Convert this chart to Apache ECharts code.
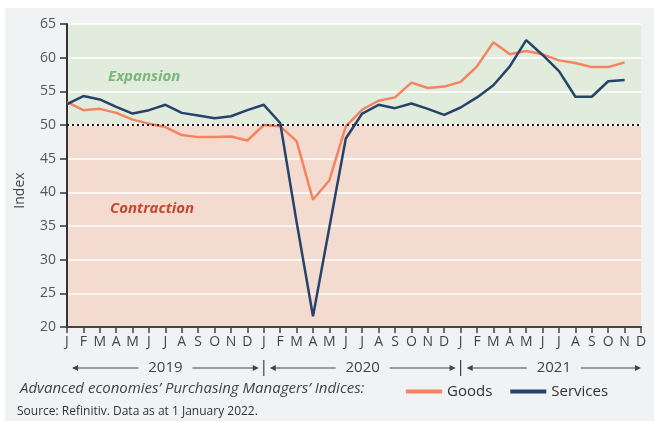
<!DOCTYPE html>
<html>
<head>
<meta charset="utf-8">
<script src="https://cdn.jsdelivr.net/npm/echarts@6/dist/echarts.min.js"></script>
<style>
  html, body { margin: 0; padding: 0; background: #ffffff; }
  #wrap { position: relative; width: 654px; height: 421px; background: #ffffff; }
  #chart { position: absolute; left: 5px; top: 8px; width: 649px; height: 413px; background: #f1f2f4; }
</style>
</head>
<body>
<div id="wrap"><div id="chart"></div></div>
<script>
// Advanced economies PMI, monthly Jan 2019 - Nov 2021
const monthLabels = ['J', 'F', 'M', 'A', 'M', 'J', 'J', 'A', 'S', 'O', 'N', 'D'];
const years = ['2019', '2020', '2021'];
const months = years.flatMap(() => monthLabels);

const goods = [
    53.4, 52.2, 52.4, 51.8, 50.8, 50.2, 49.7, 48.5, 48.2, 48.2, 48.3, 47.7,
    50.0, 49.8, 47.6, 38.9, 41.8, 49.8, 52.3, 53.6, 54.1, 56.3, 55.5, 55.7,
    56.4, 58.7, 62.3, 60.5, 61.0, 60.5, 59.6, 59.2, 58.6, 58.6, 59.3
];
const services = [
    53.1, 54.3, 53.8, 52.7, 51.7, 52.2, 53.0, 51.8, 51.4, 51.0, 51.3, 52.2,
    53.0, 50.3, 35.6, 21.6, 34.8, 48.0, 51.7, 53.0, 52.5, 53.2, 52.4, 51.5,
    52.6, 54.1, 55.9, 58.7, 62.6, 60.4, 58.0, 54.2, 54.2, 56.5, 56.7
];
const yTicks = [20, 25, 30, 35, 40, 45, 50, 55, 60, 65];

const FONT = '"Open Sans", "Noto Sans", sans-serif';
const goodsColor = '#f4845f';
const servicesColor = '#26436a';

const chart = echarts.init(document.getElementById('chart'), null, { renderer: 'canvas' });

chart.setOption({
    backgroundColor: 'transparent',
    animation: false,
    textStyle: { fontFamily: FONT },
    grid: { left: 62, right: 13, top: 16, bottom: 94 },
    legend: {
        left: 396,
        top: 371,
        itemGap: 18,
        itemWidth: 36,
        itemHeight: 4,
        icon: 'rect',
        textStyle: { fontSize: 15, color: '#333', fontFamily: FONT },
        data: ['Goods', 'Services']
    },
    xAxis: {
        type: 'category',
        data: months,
        boundaryGap: false,
        axisLine: { lineStyle: { color: '#444', width: 2 } },
        axisTick: { alignWithLabel: true, length: 6, lineStyle: { color: '#444', width: 1.5 }, interval: 0 },
        axisLabel: { interval: 0, color: '#444', fontSize: 14, margin: 8, fontFamily: FONT },
        splitLine: { show: false }
    },
    yAxis: {
        type: 'value',
        min: yTicks[0],
        max: yTicks[yTicks.length - 1],
        interval: 5,
        name: 'Index',
        nameLocation: 'middle',
        nameGap: 40,
        nameRotate: 90,
        nameTextStyle: { color: '#444', fontSize: 14, fontFamily: FONT, padding: [0, 0, 0, -30] },
        axisLine: { show: true, lineStyle: { color: '#333', width: 2 } },
        axisTick: { show: true, length: 7, lineStyle: { color: '#333', width: 1.5 } },
        axisLabel: { color: '#555', fontSize: 14, margin: 11, fontFamily: FONT },
        splitLine: { show: true, lineStyle: { color: '#ffffff', width: 1.5 } }
    },
    series: [
        {
            name: 'Goods',
            type: 'line',
            data: goods,
            symbol: 'none',
            z: 3,
            itemStyle: { color: goodsColor },
            lineStyle: { color: goodsColor, width: 2.5 },
            markArea: {
                silent: true,
                z: -1,
                data: [
                    [{ yAxis: 50, itemStyle: { color: '#e2ecdd' },
                       label: { show: true, position: [41, 45], formatter: 'Expansion', color: '#79b77a',
                                fontSize: 15, fontWeight: 'bold', fontStyle: 'italic', fontFamily: FONT } },
                     { yAxis: 65 }],
                    [{ yAxis: 20, itemStyle: { color: '#f3dbd0' },
                       label: { show: true, position: [43, 76], formatter: 'Contraction', color: '#c8462e',
                                fontSize: 15, fontWeight: 'bold', fontStyle: 'italic', fontFamily: FONT } },
                     { yAxis: 50 }]
                ]
            },
            markLine: {
                silent: true,
                symbol: 'none',
                label: { show: false },
                lineStyle: { color: '#222', type: [2, 3], width: 2 },
                data: [{ yAxis: 50 }]
            }
        },
        {
            name: 'Services',
            type: 'line',
            data: services,
            symbol: 'none',
            z: 4,
            itemStyle: { color: servicesColor },
            lineStyle: { color: servicesColor, width: 2.5 }
        }
    ]
});

// year brackets under the month labels, placed from the category scale
function px(i) {
    return chart.convertToPixel({ xAxisIndex: 0 }, i);
}

const rowY = 360;
const graphics = [];
years.forEach((yr, k) => {
    const x0 = px(12 * k) + (k === 0 ? 5 : 6);
    const x1 = k === years.length - 1 ? px(months.length - 1) : px(12 * (k + 1)) - 5;
    const mid = (x0 + x1) / 2;
    const gap = 27;
    graphics.push(
        { type: 'line', shape: { x1: x0 + 4, y1: rowY, x2: mid - gap, y2: rowY }, style: { stroke: '#444', lineWidth: 1 } },
        { type: 'line', shape: { x1: mid + gap, y1: rowY, x2: x1 - 4, y2: rowY }, style: { stroke: '#444', lineWidth: 1 } },
        { type: 'polygon', shape: { points: [[x0, rowY], [x0 + 6, rowY - 3], [x0 + 6, rowY + 3]] }, style: { fill: '#444' } },
        { type: 'polygon', shape: { points: [[x1, rowY], [x1 - 6, rowY - 3], [x1 - 6, rowY + 3]] }, style: { fill: '#444' } },
        { type: 'text', x: mid, y: rowY, style: { text: yr, fill: '#444', font: '15px ' + FONT, textAlign: 'center', textVerticalAlign: 'middle' } }
    );
    if (k > 0) {
        const xs = px(12 * k);
        graphics.push({ type: 'line', shape: { x1: xs, y1: rowY - 8, x2: xs, y2: rowY + 8 }, style: { stroke: '#444', lineWidth: 1.2 } });
    }
});

graphics.push(
    { type: 'text', x: 15, y: 381, style: { text: 'Advanced economies\u2019 Purchasing Managers\u2019 Indices:', fill: '#444',
      font: 'italic 15px ' + FONT, textVerticalAlign: 'middle' } },
    { type: 'text', x: 12, y: 404, style: { text: 'Source: Refinitiv. Data as at 1 January 2022.', fill: '#333',
      font: '12px ' + FONT, textVerticalAlign: 'middle' } }
);

chart.setOption({ graphic: graphics });
</script>
</body>
</html>
